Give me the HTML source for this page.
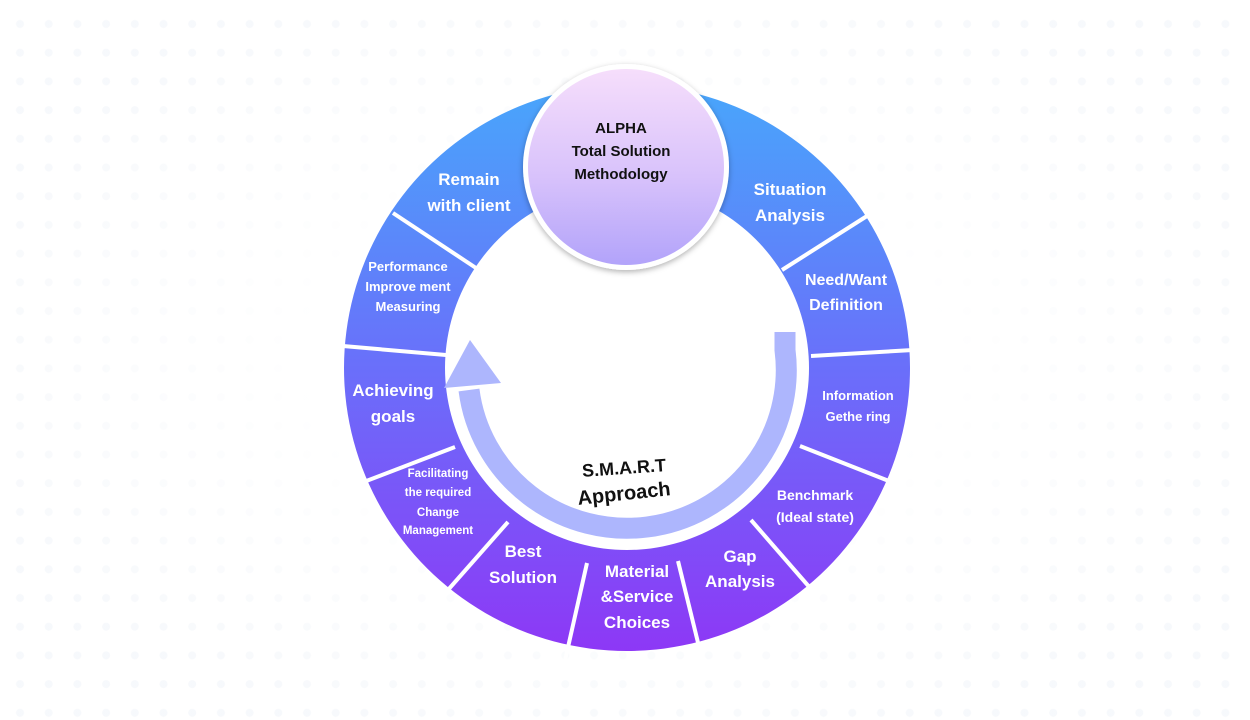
<!DOCTYPE html>
<html><head><meta charset="utf-8"><style>
html,body{margin:0;padding:0;background:#fff;}
body{width:1250px;height:720px;overflow:hidden;position:relative;font-family:"Liberation Sans",sans-serif;}
</style></head><body>
<svg width="1250" height="720" viewBox="0 0 1250 720" xmlns="http://www.w3.org/2000/svg" style="position:absolute;left:0;top:0">
<defs>
<pattern id="dots" x="6" y="10" width="28.7" height="28.7" patternUnits="userSpaceOnUse">
<circle cx="14" cy="14" r="4" fill="#eef2f8"/>
</pattern>
<radialGradient id="fade" cx="0.5" cy="0.5" r="0.55">
<stop offset="0.45" stop-color="#fff" stop-opacity="1"/>
<stop offset="1" stop-color="#fff" stop-opacity="0.3"/>
</radialGradient>
<linearGradient id="ring" x1="0" y1="0" x2="0" y2="1">
<stop offset="0" stop-color="#48a6fb"/>
<stop offset="0.5" stop-color="#6a6ffa"/>
<stop offset="1" stop-color="#8d38f6"/>
</linearGradient>
<linearGradient id="top" x1="0" y1="0" x2="0" y2="1">
<stop offset="0" stop-color="#f6defb"/>
<stop offset="0.55" stop-color="#d8c2fb"/>
<stop offset="1" stop-color="#b2a3fa"/>
</linearGradient>
<filter id="sh" x="-20%" y="-20%" width="140%" height="140%">
<feDropShadow dx="0" dy="2" stdDeviation="3" flood-color="#000" flood-opacity="0.3"/>
</filter>
</defs>
<rect x="0" y="0" width="1250" height="720" fill="url(#dots)" opacity="0.7"/>
<rect x="0" y="0" width="1250" height="720" fill="url(#fade)"/>
<path fill="url(#ring)" fill-rule="evenodd" d="M627,85 a283,283 0 1,0 0.01,0 Z M627,186 a182,182 0 1,0 0.01,0 Z"/>
<g stroke="#fff" stroke-width="4">
<line x1="393" y1="213" x2="476" y2="268"/>
<line x1="343" y1="346" x2="446" y2="355"/>
<line x1="361" y1="483" x2="455" y2="447"/>
<line x1="440" y1="599" x2="508" y2="522"/>
<line x1="564" y1="665" x2="587" y2="563"/>
<line x1="703" y1="663" x2="678" y2="561"/>
<line x1="818" y1="597" x2="751" y2="520"/>
<line x1="894" y1="483" x2="800" y2="446"/>
<line x1="913" y1="350" x2="811" y2="356"/>
<line x1="867" y1="216" x2="782" y2="270"/>
</g>
<path d="M785,332 L785,350 A158,157 0 0,1 469,390" fill="none" stroke="#adb6fd" stroke-width="21"/>
<polygon points="444,388 470,340 501,383" fill="#adb6fd"/>
<circle cx="626" cy="167" r="103" fill="#fff" filter="url(#sh)"/>
<circle cx="626" cy="167" r="98" fill="url(#top)"/>
<g font-family="Liberation Sans, sans-serif" font-weight="bold" text-anchor="middle">
<text x="621" y="133" font-size="15" fill="#111">ALPHA</text>
<text x="621" y="156" font-size="15" fill="#111">Total Solution</text>
<text x="621" y="179" font-size="15" fill="#111">Methodology</text>
<g fill="#fff" font-size="17">
<text x="469" y="185">Remain</text>
<text x="469" y="211">with client</text>
<text x="790" y="195">Situation</text>
<text x="790" y="221">Analysis</text>
<text x="846" y="285" font-size="16">Need/Want</text>
<text x="846" y="310" font-size="16">Definition</text>
<text x="393" y="396">Achieving</text>
<text x="393" y="422">goals</text>
<text x="523" y="557">Best</text>
<text x="523" y="583">Solution</text>
<text x="637" y="577">Material</text>
<text x="637" y="602">&amp;Service</text>
<text x="637" y="628">Choices</text>
<text x="740" y="562">Gap</text>
<text x="740" y="587">Analysis</text>
</g>
<g fill="#fff" font-size="13">
<text x="408" y="271">Performance</text>
<text x="408" y="291">Improve ment</text>
<text x="408" y="311">Measuring</text>
<text x="858" y="400">Information</text>
<text x="858" y="421">Gethe ring</text>
<text x="815" y="500" font-size="14">Benchmark</text>
<text x="815" y="522" font-size="14">(Ideal state)</text>
</g>
<g fill="#fff" font-size="11.5">
<text x="438" y="477">Facilitating</text>
<text x="438" y="496">the required</text>
<text x="438" y="516">Change</text>
<text x="438" y="534">Management</text>
</g>
<text x="624" y="474" font-size="18" fill="#111" transform="rotate(-4 624 468)">S.M.A.R.T</text>
<text x="624" y="500" font-size="20" fill="#111" transform="rotate(-6 624 494)">Approach</text>
</g>
</svg>
</body></html>
